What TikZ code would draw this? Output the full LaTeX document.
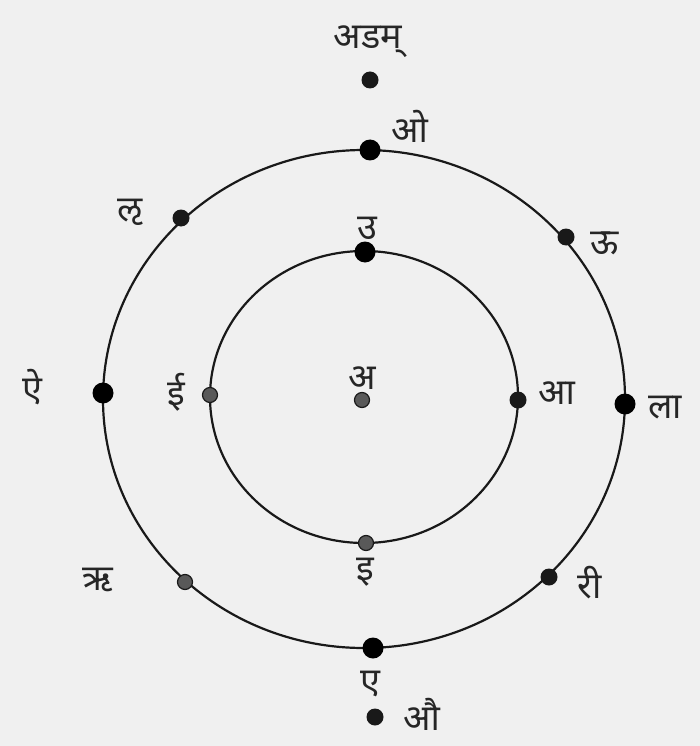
\documentclass[tikz,border=0pt]{standalone}
\usepackage{fontspec}
\newfontfamily\deva[Script=Devanagari]{Noto Sans}
\begin{document}
\begin{tikzpicture}[x=1pt,y=-1pt,
  bigdot/.style={circle,fill=black,inner sep=0pt,minimum size=21pt},
  middot/.style={circle,fill=black!90,inner sep=0pt,minimum size=17pt},
  greydot/.style={circle,fill=black!65,draw=black!90,line width=1.2pt,inner sep=0pt,minimum size=15pt},
  lbl/.style={font=\deva\fontsize{36}{40}\selectfont,text=black!85,inner sep=0pt},
  ring/.style={line width=2.2pt,draw=black!90}]
\fill[black!6] (0,0) rectangle (700,746);
\useasboundingbox (0,0) rectangle (700,746);
% rings
\draw[ring] (364,399) ellipse [x radius=261, y radius=249];
\draw[ring] (364,397) ellipse [x radius=154, y radius=146];
% dots
\node[middot] (ahm) at (370,80) {};
\node[bigdot] (o) at (370,150) {};
\node[middot] (lr) at (181,218) {};
\node[bigdot] (u) at (365,252) {};
\node[middot] (uu) at (566,237) {};
\node[bigdot] (ai) at (103,393) {};
\node[greydot] (ii) at (210,395) {};
\node[greydot] (a) at (362,400) {};
\node[middot] (aa) at (518,400) {};
\node[bigdot] (laa) at (625,404) {};
\node[greydot] (ri) at (185,582) {};
\node[greydot] (i) at (366,543) {};
\node[middot] (rii) at (549,577) {};
\node[bigdot] (e) at (373,648) {};
\node[middot] (au) at (375,717) {};
% labels
\node[lbl] (tahm) at (368,42) {अडम्};
\node[lbl] (to) at (410,126) {ओ};
\node[lbl] (tlr) at (130,212) {ऌ};
\node[lbl] (tu) at (367,228) {उ};
\node[lbl] (tuu) at (605,243) {ऊ};
\node[lbl] (tai) at (32,387) {ऐ};
\node[lbl] (tii) at (176,392) {ई};
\node[lbl] (ta) at (362,378) {अ};
\node[lbl] (taa) at (557,393) {आ};
\node[lbl] (tlaa) at (665,408) {ला};
\node[lbl] (tri) at (98,580) {ऋ};
\node[lbl] (ti) at (365,572) {इ};
\node[lbl] (trii) at (590,583) {री};
\node[lbl] (te) at (370,684) {ए};
\node[lbl] (tau) at (422,714) {औ};
\end{tikzpicture}
\end{document}
